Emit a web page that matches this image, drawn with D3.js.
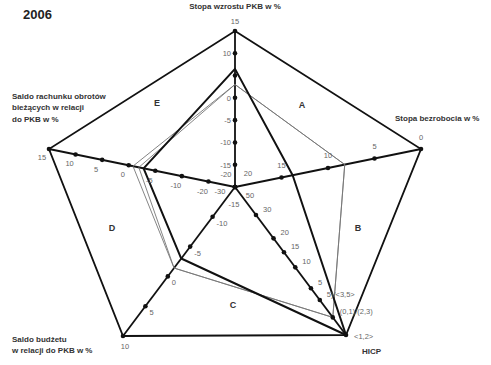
<!DOCTYPE html>
<html>
<head>
<meta charset="utf-8">
<script src="https://cdn.jsdelivr.net/npm/d3@7"></script>
<style>
  body { margin: 0; background: #fff; }
  svg { display: block; font-family: "Liberation Sans", Arial, sans-serif; }
  .title { font-size: 8px; font-weight: bold; fill: #333; }
  .tick { font-size: 7.5px; fill: #666; }
  .region { font-size: 9px; font-weight: bold; fill: #333; }
</style>
</head>
<body>
<svg id="chart" width="491" height="365"></svg>
<script>
"use strict"

// axis ticks
const gdpTicks = [15, 10, 5, 0, -5, -10, -15, -20]
const unemploymentTicks = [0, 5, 10, 15, 20]
const hicpTicks = ["50", "30", "20", "15", "10", "5", "5)/<3,5>", "(0,1)/(2,3)", "<1,2>"]
const budgetTicks = [10, 5, 0, -5, -10, -15]
const currentAccountTicks = [15, 10, 5, 0, -5, -10, -20, -30]

// series: thick line first, then the two thin ones
const gdpValues = [6.5, 3.0, 3.0]
const unemploymentValues = [13.8, 8.2, 8.2]
const hicpValues = ["<1,2>", "(0,1)/(2,3)", "(0,1)/(2,3)"]
const budgetValues = [-3.0, -1.4, -1.4]
const currentAccountValues = [-2.8, -1.9, -0.8]

const regionLetters = ["A", "B", "C", "D", "E"]

function pentagon() {
  const svg = d3.select("#chart")
  const cx = 235, cy = 187

  // value -> share of the way from the centre to the outer corner
  const gdpScale = d3.scaleLinear().domain([-20, 15]).range([0, 1])
  const unemploymentScale = d3.scaleLinear().domain([20, 0]).range([0, 1])
  const hicpScale = d3.scaleOrdinal().domain(hicpTicks)
    .range([0, 0.189, 0.347, 0.441, 0.543, 0.684, 0.764, 0.881, 1])
  const budgetScale = d3.scaleLinear().domain([-15, 10]).range([0, 1])
  const currentAccountScale = d3.scaleLinear().domain([-30, -10, 15]).range([0, 2 / 7, 1])

  const axes = [
    { ticks: gdpTicks, scale: gdpScale, values: gdpValues, vec: [0, -156],
      off: [-4, 3, "end"], endOff: [0, -7, "middle"], midOff: [-9, -10, "middle"], hide: [5] },
    { ticks: unemploymentTicks, scale: unemploymentScale, values: unemploymentValues, vec: [186, -38],
      off: [0, -10, "middle"], endOff: [0, -9, "middle"], midOff: [13, -11, "middle"], hide: [] },
    { ticks: hicpTicks, scale: hicpScale, values: hicpValues, vec: [111, 148],
      off: [7, -3, "start"], endOff: [8, 4, "start"], midOff: [15, 11, "middle"], hide: [] },
    { ticks: budgetTicks, scale: budgetScale, values: budgetValues, vec: [-112, 149],
      off: [4, 9, "start"], endOff: [2, 13, "middle"], midOff: [-1, 20, "middle"], hide: [] },
    { ticks: currentAccountTicks, scale: currentAccountScale, values: currentAccountValues, vec: [-186, -38],
      off: [-6, 12, "middle"], endOff: [-7, 11, "middle"], midOff: [-15, 7, "middle"], hide: [] },
  ]

  const pos = (axis, t) => [cx + t * axis.vec[0], cy + t * axis.vec[1]]
  const line = d3.line().curve(d3.curveLinearClosed)

  // outer frame
  svg.append("path")
    .attr("d", line(axes.map(a => pos(a, 1))))
    .attr("fill", "none").attr("stroke", "#111").attr("stroke-width", 1.8)

  // spokes
  svg.append("g").selectAll("line")
    .data(axes)
    .enter().append("line")
      .attr("x1", cx).attr("y1", cy)
      .attr("x2", a => pos(a, 1)[0]).attr("y2", a => pos(a, 1)[1])
      .attr("stroke", "#111").attr("stroke-width", 1.8)

  // series polygons, thin ones under the thick one
  const seriesIdx = d3.range(gdpValues.length).reverse()
  svg.append("g").selectAll("path")
    .data(seriesIdx)
    .enter().append("path")
      .attr("d", i => line(axes.map(a => pos(a, a.scale(a.values[i])))))
      .attr("fill", "none")
      .attr("stroke", i => i === 0 ? "#111" : "#777")
      .attr("stroke-width", i => i === 0 ? 2 : 0.9)
      .attr("stroke-linejoin", "round")

  // tick dots and labels
  axes.forEach(a => {
    const g = svg.append("g")
    g.selectAll("circle")
      .data(a.ticks)
      .enter().append("circle")
        .attr("cx", v => pos(a, a.scale(v))[0])
        .attr("cy", v => pos(a, a.scale(v))[1])
        .attr("r", 2.3)
        .attr("fill", "#111")

    g.selectAll("text")
      .data(a.ticks.filter(v => !a.hide.includes(v)))
      .enter().append("text")
        .attr("class", "tick")
        .each(function (v) {
          const t = a.scale(v)
          const o = t === 1 ? a.endOff : (t === 0 ? a.midOff : a.off)
          const p = pos(a, t)
          d3.select(this)
            .attr("x", p[0] + o[0]).attr("y", p[1] + o[1])
            .attr("text-anchor", o[2])
        })
        .text(v => String(v).replace("-", "-"))
  })

  // axis titles
  const titles = [
    { lines: ["Stopa wzrostu PKB w %"], x: 235, y: 9, anchor: "middle" },
    { lines: ["Stopa bezrobocia w %"], x: 395, y: 121, anchor: "start" },
    { lines: ["HICP"], x: 362, y: 354, anchor: "start" },
    { lines: ["Saldo budżetu", "w relacji do PKB w %"], x: 12, y: 342, anchor: "start" },
    { lines: ["Saldo rachunku obrotów", "bieżących w relacji", "do PKB w %"], x: 12, y: 99, anchor: "start" },
  ]
  titles.forEach(t => {
    svg.append("text")
      .attr("class", "title")
      .attr("text-anchor", t.anchor)
      .selectAll("tspan")
      .data(t.lines)
      .enter().append("tspan")
        .attr("x", t.x)
        .attr("y", (d, i) => t.y + i * 11.3)
        .text(d => d)
  })

  // region letters
  const letterPos = [[302, 108], [358, 231], [233, 308], [112, 231], [157, 106]]
  svg.append("g").selectAll("text")
    .data(regionLetters)
    .enter().append("text")
      .attr("class", "region")
      .attr("text-anchor", "middle")
      .attr("x", (d, i) => letterPos[i][0])
      .attr("y", (d, i) => letterPos[i][1])
      .text(d => d)

  svg.append("text")
    .attr("x", 23).attr("y", 19)
    .attr("font-size", 13).attr("font-weight", "bold").attr("fill", "#222")
    .text("2006")
}

pentagon()
</script>
</body>
</html>
